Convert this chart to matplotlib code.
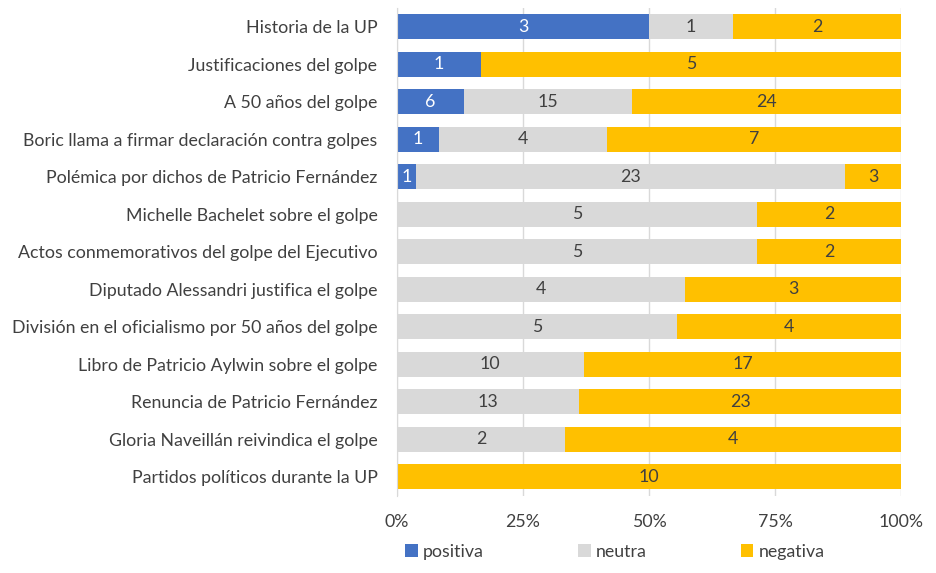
import matplotlib
matplotlib.use("Agg")
import matplotlib.pyplot as plt
import numpy as np

categories = [
    "Historia de la UP",
    "Justificaciones del golpe",
    "A 50 años del golpe",
    "Boric llama a firmar declaración contra golpes",
    "Polémica por dichos de Patricio Fernández",
    "Michelle Bachelet sobre el golpe",
    "Actos conmemorativos del golpe del Ejecutivo",
    "Diputado Alessandri justifica el golpe",
    "División en el oficialismo por 50 años del golpe",
    "Libro de Patricio Aylwin sobre el golpe",
    "Renuncia de Patricio Fernández",
    "Gloria Naveillán reivindica el golpe",
    "Partidos políticos durante la UP",
]
positiva = [3, 1, 6, 1, 1, 0, 0, 0, 0, 0, 0, 0, 0]
neutra = [1, 0, 15, 4, 23, 5, 5, 4, 5, 10, 13, 2, 0]
negativa = [2, 5, 24, 7, 3, 2, 2, 3, 4, 17, 23, 4, 10]
series_names = ["positiva", "neutra", "negativa"]
colors = ["#4472C4", "#D9D9D9", "#FFC000"]
text_colors = ["white", "#404040", "#404040"]
tick_labels = ["0%", "25%", "50%", "75%", "100%"]

plt.rcParams['font.family'] = ['Lato', 'DejaVu Sans']
FS = 12.8

fig = plt.figure(figsize=(9.36, 5.73), dpi=100)
ax = fig.add_axes([0.424, 0.135, 0.539, 0.851])

data = np.array([positiva, neutra, negativa], dtype=float)
totals = data.sum(axis=0)
pct = data / totals
y = np.arange(len(categories))
left = np.zeros(len(categories))
handles = []
for k in range(3):
    h = ax.barh(y, pct[k], left=left, height=0.67, color=colors[k],
                label=series_names[k], zorder=3)
    handles.append(h)
    for i in range(len(categories)):
        if data[k, i] > 0:
            ax.text(left[i] + pct[k, i] / 2, y[i], f"{int(data[k, i])}",
                    ha="center", va="center", color=text_colors[k],
                    fontsize=FS, zorder=4)
    left += pct[k]

ax.set_ylim(len(categories) - 0.5, -0.5)
ax.set_xlim(0, 1)
ax.set_yticks(y)
ax.set_yticklabels(categories, fontsize=FS, color="#404040")
ax.set_xticks([0, 0.25, 0.5, 0.75, 1.0])
ax.set_xticklabels(tick_labels, fontsize=FS, color="#404040")
ax.tick_params(axis="both", length=0)
ax.tick_params(axis="x", pad=13)
ax.tick_params(axis="y", pad=14)
ax.grid(axis="x", color="#D9D9D9", linewidth=1, zorder=0)
for s in ["top", "right", "bottom"]:
    ax.spines[s].set_visible(False)
ax.spines["left"].set_color("#D9D9D9")
ax.spines["left"].set_zorder(5)

leg = fig.legend(handles=handles, labels=series_names, loc="center",
                 bbox_to_anchor=(0.657, 0.037), ncol=3, frameon=False,
                 fontsize=FS, handlelength=0.7, handleheight=0.7,
                 handletextpad=0.3, columnspacing=5.3)
for t in leg.get_texts():
    t.set_color("#404040")

fig.savefig("out.png", dpi=100)
